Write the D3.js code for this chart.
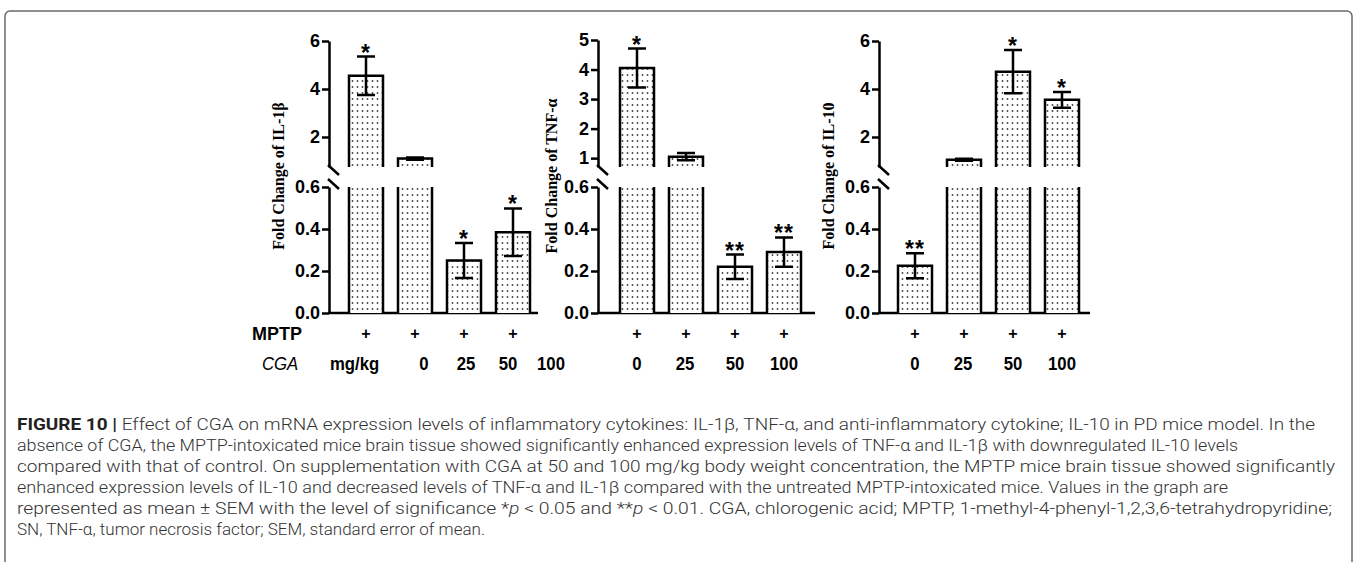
<!DOCTYPE html>
<html>
<head>
<meta charset="utf-8">
<script src="https://cdn.jsdelivr.net/npm/d3@7"></script>
<style>
  body { margin: 0; background: #fff; }
  svg { display: block; }
</style>
</head>
<body>
<div id="chart"></div>
<script>
// data
var groups = ["0", "25", "50", "100"];
var mptp = ["+", "+", "+", "+"];

var il1bMean = [4.55, 1.1, 0.25, 0.385];
var il1bErr = [0.8, 0.05, 0.083, 0.113];
var il1bSig = ["*", "", "*", "*"];

var tnfMean = [4.05, 1.05, 0.22, 0.29];
var tnfErr = [0.66, 0.12, 0.058, 0.07];
var tnfSig = ["*", "", "**", "**"];

var il10Mean = [0.225, 1.05, 4.72, 3.55];
var il10Err = [0.06, 0.04, 0.9, 0.33];
var il10Sig = ["**", "", "*", "*"];

var ticks6 = [2, 4, 6];
var ticks5 = [1, 2, 3, 4, 5];
var ticksLow = [0, 0.2, 0.4, 0.6];

var width = 1357, height = 562;

var svg = d3.select("#chart").append("svg")
    .attr("width", width)
    .attr("height", height);

// dotted fill of the bars
var defs = svg.append("defs");
var pat = defs.append("pattern")
    .attr("id", "dots")
    .attr("patternUnits", "userSpaceOnUse")
    .attr("width", 5)
    .attr("height", 6);
pat.append("rect").attr("width", 5).attr("height", 6).attr("fill", "#fff");
pat.append("circle").attr("cx", 2.5).attr("cy", 3).attr("r", 0.9).attr("fill", "#444");

// frame
svg.append("rect")
    .attr("x", 5).attr("y", 11)
    .attr("width", 1347).attr("height", 620)
    .attr("rx", 5)
    .attr("fill", "none")
    .attr("stroke", "#6b6b6b")
    .attr("stroke-width", 1.5);

var panels = [
    { label: "Fold Change of IL-1β", mean: il1bMean, err: il1bErr, sig: il1bSig, ticks: ticks6, upMin: 0.75, upMax: 6, upTop: 41,
      axisX: 329, axisEnd: 538, barStart: 349, labelX: 278 },
    { label: "Fold Change of TNF-α", mean: tnfMean, err: tnfErr, sig: tnfSig, ticks: ticks5, upMin: 0.7, upMax: 5, upTop: 40,
      axisX: 598, axisEnd: 815, barStart: 620, labelX: 551 },
    { label: "Fold Change of IL-10", mean: il10Mean, err: il10Err, sig: il10Sig, ticks: ticks6, upMin: 0.75, upMax: 6, upTop: 41,
      axisX: 879, axisEnd: 1090, barStart: 898, labelX: 828 }
];

var upBottom = 167, lowTop = 187, base = 313;
var sansBold = "Liberation Sans, Arial, sans-serif";

panels.forEach(function (p) {
    var g = svg.append("g");

    var x = d3.scaleBand()
        .domain(groups)
        .range([p.barStart, p.barStart + 181])
        .paddingInner(0.306)
        .paddingOuter(0);

    var yUp = d3.scaleLinear().domain([p.upMin, p.upMax]).range([upBottom, p.upTop]);
    var yLow = d3.scaleLinear().domain([0, 0.6]).range([base, lowTop]);

    // axes
    var axUp = g.append("g")
        .attr("transform", "translate(" + p.axisX + ",0)")
        .call(d3.axisLeft(yUp).tickValues(p.ticks).tickFormat(d3.format("d")).tickSize(7).tickSizeOuter(0).tickPadding(2));
    var axLow = g.append("g")
        .attr("transform", "translate(" + p.axisX + ",0)")
        .call(d3.axisLeft(yLow).tickValues(ticksLow).tickFormat(d3.format(".1f")).tickSize(7).tickSizeOuter(0).tickPadding(2));

    [axUp, axLow].forEach(function (ax) {
        ax.select(".domain").attr("stroke", "#000").attr("stroke-width", 2.5);
        ax.selectAll(".tick line").attr("stroke", "#000").attr("stroke-width", 2.5);
        ax.selectAll(".tick text")
            .attr("fill", "#000")
            .style("font-family", sansBold)
            .style("font-weight", "bold")
            .style("font-size", "18px");
    });

    // break marks
    [upBottom + 3, lowTop - 3].forEach(function (yy) {
        g.append("line")
            .attr("x1", p.axisX - 1).attr("y1", yy - 5)
            .attr("x2", p.axisX + 10).attr("y2", yy + 5)
            .attr("stroke", "#000").attr("stroke-width", 2.5);
    });

    // x axis
    g.append("line")
        .attr("x1", p.axisX - 1).attr("x2", p.axisEnd)
        .attr("y1", base).attr("y2", base)
        .attr("stroke", "#000").attr("stroke-width", 2.5);

    // y label
    g.append("text")
        .attr("transform", "translate(" + p.labelX + "," + 176 + ") rotate(-90)")
        .attr("text-anchor", "middle")
        .attr("dy", "0.35em")
        .style("font-family", "Liberation Serif, Times New Roman, serif")
        .style("font-weight", "bold")
        .style("font-size", "16px")
        .text(p.label);

    groups.forEach(function (k, i) {
        var v = p.mean[i], e = p.err[i];
        var x0 = x(k), x1 = x(k) + x.bandwidth(), cx = x0 + x.bandwidth() / 2;

        // lower part
        var lt = v > 0.6 ? lowTop : yLow(v);
        g.append("rect")
            .attr("x", x0).attr("y", lt)
            .attr("width", x.bandwidth()).attr("height", base - lt)
            .attr("fill", "url(#dots)");
        g.append("path")
            .attr("d", v > 0.6
                ? "M" + x0 + "," + base + "V" + lt + "M" + x1 + "," + lt + "V" + base
                : "M" + x0 + "," + base + "V" + lt + "H" + x1 + "V" + base)
            .attr("fill", "none").attr("stroke", "#000").attr("stroke-width", 2.5);

        // upper part
        if (v > p.upMin) {
            var ut = yUp(v);
            g.append("rect")
                .attr("x", x0).attr("y", ut)
                .attr("width", x.bandwidth()).attr("height", upBottom - ut)
                .attr("fill", "url(#dots)");
            g.append("path")
                .attr("d", "M" + x0 + "," + upBottom + "V" + ut + "H" + x1 + "V" + upBottom)
                .attr("fill", "none").attr("stroke", "#000").attr("stroke-width", 2.5);
        }

        // error bar
        var y = v > 0.6 ? yUp : yLow;
        var yHi = y(v + e), yLo = y(v - e);
        g.append("path")
            .attr("d", "M" + cx + "," + yLo + "V" + yHi
                + "M" + (cx - 9) + "," + yHi + "H" + (cx + 9)
                + "M" + (cx - 9) + "," + yLo + "H" + (cx + 9))
            .attr("fill", "none").attr("stroke", "#000").attr("stroke-width", 2.5);

        if (p.sig[i]) {
            g.append("text")
                .attr("x", cx).attr("y", yHi + 4)
                .attr("text-anchor", "middle")
                .style("font-family", sansBold)
                .style("font-weight", "bold")
                .style("font-size", "23px")
                .style("letter-spacing", "1px")
                .text(p.sig[i]);
        }

        // treatment row
        g.append("text")
            .attr("x", cx).attr("y", 339)
            .attr("text-anchor", "middle")
            .style("font-family", sansBold)
            .style("font-weight", "bold")
            .style("font-size", "16px")
            .text(mptp[i]);
    });
});

// row labels
svg.append("text")
    .attr("x", 252).attr("y", 340)
    .style("font-family", sansBold)
    .style("font-weight", "bold")
    .style("font-size", "18px")
    .text("MPTP");

function rowText(x, txt, italic, anchor) {
    svg.append("text")
        .attr("transform", "translate(" + x + ",370) scale(0.88,1)")
        .attr("text-anchor", anchor)
        .style("font-family", sansBold)
        .style("font-weight", italic ? "normal" : "bold")
        .style("font-style", italic ? "italic" : "normal")
        .style("font-size", "19px")
        .text(txt);
}
rowText(262, "CGA", true, "start");
rowText(330, "mg/kg", false, "start");

var doseX = [[424, 466, 508, 551], [637, 685, 735, 784], [915, 963, 1013, 1062]];
doseX.forEach(function (row) {
    row.forEach(function (xx, i) {
        rowText(xx, groups[i], false, "middle");
    });
});

// caption
var captionLines = [
    [["b", "FIGURE 10 | "], ["", "Effect of CGA on mRNA expression levels of inflammatory cytokines: IL-1β, TNF-α, and anti-inflammatory cytokine; IL-10 in PD mice model. In the"]],
    [["", "absence of CGA, the MPTP-intoxicated mice brain tissue showed significantly enhanced expression levels of TNF-α and IL-1β with downregulated IL-10 levels"]],
    [["", "compared with that of control. On supplementation with CGA at 50 and 100 mg/kg body weight concentration, the MPTP mice brain tissue showed significantly"]],
    [["", "enhanced expression levels of IL-10 and decreased levels of TNF-α and IL-1β compared with the untreated MPTP-intoxicated mice. Values in the graph are"]],
    [["", "represented as mean ± SEM with the level of significance *"], ["i", "p"], ["", " < 0.05 and **"], ["i", "p"], ["", " < 0.01. CGA, chlorogenic acid; MPTP, 1-methyl-4-phenyl-1,2,3,6-tetrahydropyridine;"]],
    [["", "SN, TNF-α, tumor necrosis factor; SEM, standard error of mean."]]
];
var captionEnd = [1315, 1238, 1335, 1228, 1332, 485];

captionLines.forEach(function (line, li) {
    var t = svg.append("text")
        .attr("x", 17)
        .attr("y", 430 + li * 21)
        .attr("textLength", captionEnd[li] - 17)
        .attr("lengthAdjust", "spacingAndGlyphs")
        .style("font-family", "Roboto, Liberation Sans, sans-serif")
        .style("font-weight", 300)
        .style("font-size", "16px")
        .attr("fill", "#333");
    line.forEach(function (s) {
        var ts = t.append("tspan").text(s[1]);
        if (s[0] == "b") ts.style("font-weight", "bold").attr("fill", "#222");
        if (s[0] == "i") ts.style("font-style", "italic");
    });
});
</script>
</body>
</html>
